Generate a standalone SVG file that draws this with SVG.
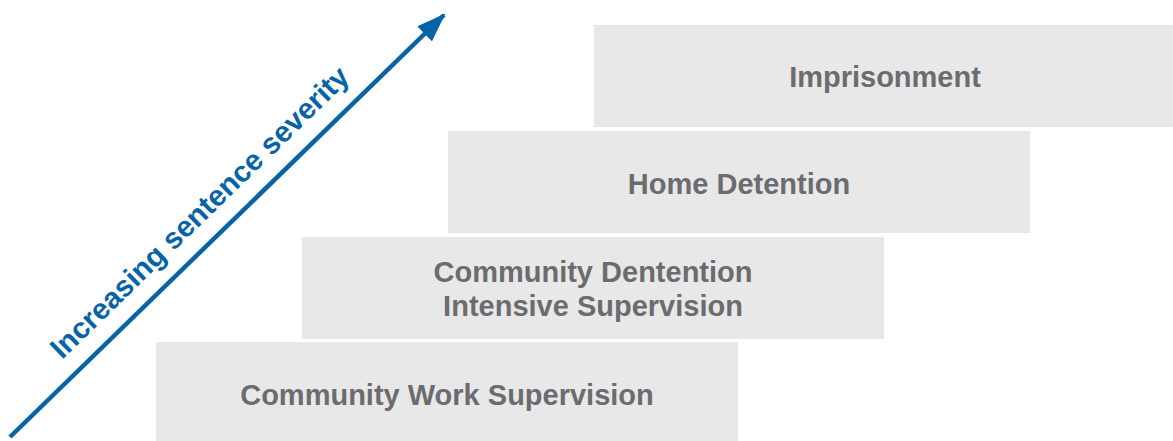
<svg xmlns="http://www.w3.org/2000/svg" width="1173" height="441" viewBox="0 0 1173 441">
  <defs>
    <style>
      .step { fill: #e8e8e8; }
      .label { font-family: "Liberation Sans", Arial, sans-serif; font-weight: bold; font-size: 29px; fill: #6c6c70; text-anchor: middle; }
      .axis-label { font-family: "Liberation Sans", Arial, sans-serif; font-weight: bold; font-size: 29.5px; fill: #0563a6; text-anchor: middle; }
      .axis { stroke: #0563a6; stroke-width: 4.5; fill: none; }
    </style>
    <marker id="arrowhead" viewBox="0 0 29 21" refX="27" refY="10.5" markerWidth="29" markerHeight="21" markerUnits="userSpaceOnUse" orient="auto">
      <path d="M0,0 L29,10.5 L0,21 Z" fill="#0563a6"/>
    </marker>
  </defs>

  <rect width="1173" height="441" fill="#ffffff"/>

  <!-- staircase of sentence types -->
  <g id="node-imprisonment">
    <rect class="step" x="594" y="25" width="582" height="102"/>
    <text class="label" x="885" y="87">Imprisonment</text>
  </g>
  <g id="node-home-detention">
    <rect class="step" x="448" y="131" width="582" height="102"/>
    <text class="label" x="739" y="194">Home Detention</text>
  </g>
  <g id="node-community-detention">
    <rect class="step" x="302" y="237" width="582" height="102"/>
    <text class="label" x="593" y="282">Community Dentention</text>
    <text class="label" x="593" y="316">Intensive Supervision</text>
  </g>
  <g id="node-community-work">
    <rect class="step" x="156" y="342" width="582" height="99"/>
    <text class="label" x="447" y="405">Community Work Supervision</text>
  </g>

  <!-- severity axis -->
  <g id="connectors">
    <line class="axis" x1="10" y1="437" x2="444" y2="15" marker-end="url(#arrowhead)"/>
    <text class="axis-label" transform="translate(206.5,219.5) rotate(-44.2)" x="0" y="0">Increasing sentence severity</text>
  </g>
</svg>
